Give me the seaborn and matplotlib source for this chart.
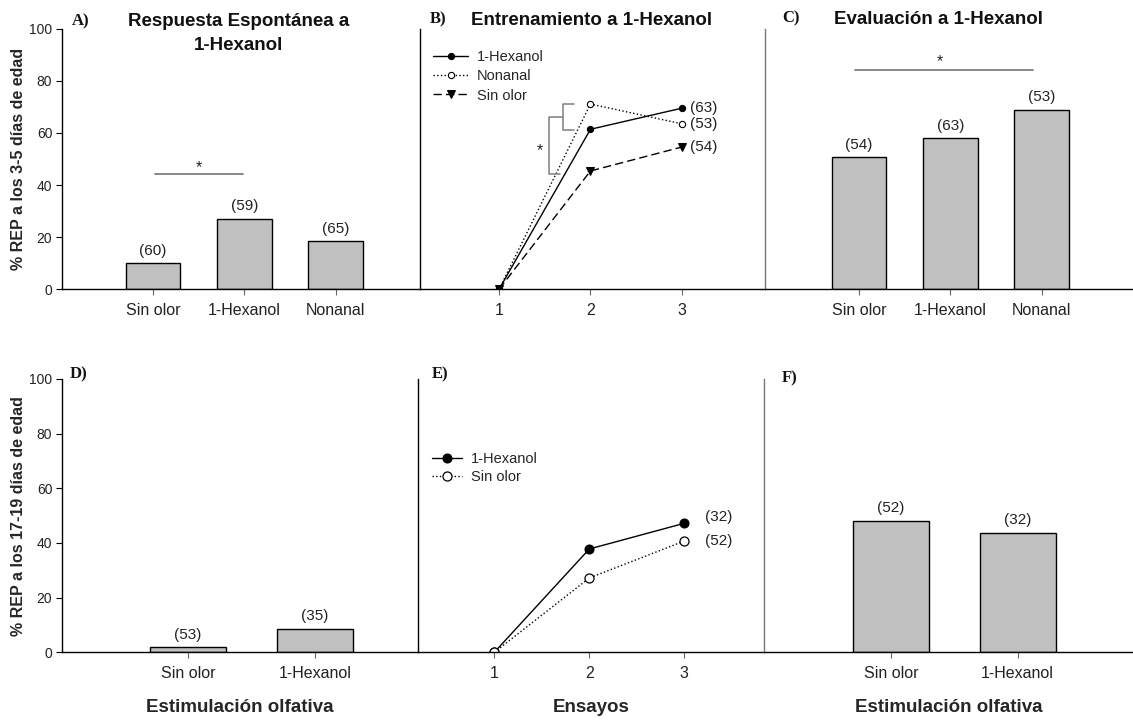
import matplotlib
matplotlib.use("Agg")
import matplotlib.pyplot as plt
import seaborn as sns
import pandas as pd

sns.set_theme(style="white")
plt.rcParams["font.family"] = ["Liberation Sans", "DejaVu Sans"]

# ---------------- data ----------------
a_cats = ["Sin olor", "1-Hexanol", "Nonanal"]
a_vals = [10.0, 27.0, 18.4]
a_n = ["(60)", "(59)", "(65)"]

b_trials = [1, 2, 3]
b_hexanol = [0.0, 61.4, 69.5]
b_nonanal = [0.0, 71.1, 63.5]
b_sinolor = [0.0, 45.4, 54.6]
b_n = ["(63)", "(53)", "(54)"]

c_cats = ["Sin olor", "1-Hexanol", "Nonanal"]
c_vals = [50.6, 57.9, 68.8]
c_n = ["(54)", "(63)", "(53)"]

d_cats = ["Sin olor", "1-Hexanol"]
d_vals = [1.8, 8.6]
d_n = ["(53)", "(35)"]

e_trials = [1, 2, 3]
e_hexanol = [0.0, 37.8, 47.2]
e_sinolor = [0.0, 27.2, 40.7]
e_n = ["(32)", "(52)"]

f_cats = ["Sin olor", "1-Hexanol"]
f_vals = [48.2, 43.8]
f_n = ["(52)", "(32)"]

W, H = 1133, 720
fig = plt.figure(figsize=(W / 100, H / 100), dpi=100)
GRAY = "#c0c0c0"
SIG = "#7f7f7f"


def add_ax(x0, x1, ybot, ytop):
    ax = fig.add_axes([x0 / W, 1 - ybot / H, (x1 - x0) / W, (ybot - ytop) / H])
    ax.set_facecolor("none")
    return ax


def style(ax, yaxis, left_color="black"):
    ax.spines["top"].set_visible(False)
    ax.spines["right"].set_visible(False)
    ax.spines["bottom"].set_color("black")
    ax.spines["bottom"].set_linewidth(1.0)
    ax.spines["left"].set_color(left_color)
    ax.spines["left"].set_linewidth(1.0)
    ax.tick_params(axis="x", bottom=True, direction="out", length=4, width=0.8,
                   color="#666666", pad=6, labelsize=11.5, labelcolor="#222222")
    if yaxis:
        ax.set_yticks([0, 20, 40, 60, 80, 100])
        ax.tick_params(axis="y", left=True, direction="out", length=4, width=0.8,
                       color="black", pad=3, labelsize=10, labelcolor="#222222")
    else:
        ax.set_yticks([])
    ax.set_ylim(0, 100)
    ax.set_xlabel("")
    ax.set_ylabel("")
    ax.grid(False)


def bars(ax, cats, vals, labels, xlim):
    df = pd.DataFrame({"cat": cats, "val": vals})
    sns.barplot(data=df, x="cat", y="val", order=cats, color=GRAY, saturation=1,
                edgecolor="black", linewidth=1.0, width=0.6, ax=ax)
    for i, (v, lab) in enumerate(zip(vals, labels)):
        ax.annotate(lab, (i, v), xytext=(0, 4), textcoords="offset points",
                    ha="center", va="bottom", fontsize=11, color="#222222")
    ax.set_xlim(*xlim)


# ---------------- Panel A ----------------
axA = add_ax(62, 420, 289.3, 28.7)
bars(axA, a_cats, a_vals, a_n, (-0.995, 2.92))
style(axA, True)
axA.plot([0.02, 0.98], [44.4, 44.4], color=SIG, lw=1.3)
axA.text(0.5, 45.0, "*", ha="center", va="baseline", fontsize=11.5, color="#222222")
axA.set_ylabel("% REP a los 3-5 días de edad", fontsize=11.5, fontweight="bold", labelpad=2)

# ---------------- Panel B ----------------
axB = add_ax(420, 765, 289.3, 28.7)
sns.lineplot(x=b_trials, y=b_hexanol, ax=axB, color="black", linestyle="-", lw=1,
             marker="o", markersize=4.5, markerfacecolor="black", markeredgecolor="black",
             label="1-Hexanol", legend=False)
sns.lineplot(x=b_trials, y=b_nonanal, ax=axB, color="black", linestyle=":", lw=1,
             marker="o", markersize=4.5, markerfacecolor="white", markeredgecolor="black",
             markeredgewidth=0.8, label="Nonanal", legend=False)
sns.lineplot(x=b_trials, y=b_sinolor, ax=axB, color="black", linestyle=(0, (6, 3)), lw=1,
             marker="v", markersize=5.5, markerfacecolor="black", markeredgecolor="black",
             label="Sin olor", legend=False)
style(axB, False)
axB.set_xticks(b_trials)
axB.set_xticklabels([str(t) for t in b_trials])
axB.set_xlim(0.135, 3.91)
for y, lab in zip([b_hexanol[-1], b_nonanal[-1], b_sinolor[-1]], b_n):
    axB.annotate(lab, (3, y), xytext=(6, 0), textcoords="offset points",
                 ha="left", va="center", fontsize=11, color="#222222")
# significance brackets
axB.plot([1.825, 1.698, 1.698, 1.825], [71.1, 71.1, 61.1, 61.1], color=SIG, lw=1.1)
axB.plot([1.698, 1.548, 1.548, 1.668], [66.0, 66.0, 44.2, 44.2], color=SIG, lw=1.1)
axB.text(1.449, 51.3, "*", ha="center", va="baseline", fontsize=11.5, color="#222222")
axB.legend(loc="upper left", bbox_to_anchor=(0.038, 0.918), frameon=False, fontsize=10.5,
           handlelength=2.4, handletextpad=0.6, labelspacing=0.36, borderpad=0,
           borderaxespad=0)

# ---------------- Panel C ----------------
axC = add_ax(765, 1133, 289.3, 28.7)
bars(axC, c_cats, c_vals, c_n, (-1.03, 3.0))
style(axC, False, left_color="#777777")
axC.plot([-0.04, 1.9], [84.1, 84.1], color=SIG, lw=1.3)
axC.text(0.88, 85.7, "*", ha="center", va="baseline", fontsize=11.5, color="#222222")

# ---------------- Panel D ----------------
axD = add_ax(62, 418, 652.3, 379)
bars(axD, d_cats, d_vals, d_n, (-0.99, 1.81))
style(axD, True)
axD.set_ylabel("% REP a los 17-19 días de edad", fontsize=11.5, fontweight="bold", labelpad=2)
axD.set_xlabel("Estimulación olfativa", fontsize=13.5, fontweight="bold", labelpad=13)

# ---------------- Panel E ----------------
axE = add_ax(418, 764, 652.3, 379)
sns.lineplot(x=e_trials, y=e_hexanol, ax=axE, color="black", linestyle="-", lw=1,
             marker="o", markersize=6.5, markerfacecolor="black", markeredgecolor="black",
             label="1-Hexanol", legend=False)
sns.lineplot(x=e_trials, y=e_sinolor, ax=axE, color="black", linestyle=":", lw=1,
             marker="o", markersize=6.5, markerfacecolor="white", markeredgecolor="black",
             markeredgewidth=0.9, label="Sin olor", legend=False)
style(axE, False)
axE.set_xticks(e_trials)
axE.set_xticklabels([str(t) for t in e_trials])
axE.set_xlim(0.196, 3.84)
axE.text(3.22, 49.5, e_n[0], ha="left", va="center", fontsize=11, color="#222222")
axE.text(3.22, 40.7, e_n[1], ha="left", va="center", fontsize=11, color="#222222")
axE.legend(loc="upper left", bbox_to_anchor=(0.04, 0.733), frameon=False, fontsize=10.5,
           handlelength=2.1, handletextpad=0.6, labelspacing=0.28, borderpad=0,
           borderaxespad=0)
axE.set_xlabel("Ensayos", fontsize=13.5, fontweight="bold", labelpad=13)

# ---------------- Panel F ----------------
axF = add_ax(764, 1133, 652.3, 379)
bars(axF, f_cats, f_vals, f_n, (-1.0, 1.91))
style(axF, False, left_color="#777777")
axF.set_xlabel("Estimulación olfativa", fontsize=13.5, fontweight="bold", labelpad=13)

# ---------------- titles & panel letters ----------------
def ftext(x, y, s, **kw):
    fig.text(x / W, 1 - y / H, s, **kw)

tkw = dict(fontsize=13.5, fontweight="bold", color="#111111", va="baseline", ha="center")
ftext(239, 26, "Respuesta Espontánea a", **tkw)
ftext(239, 50, "1-Hexanol", **tkw)
ftext(592, 25, "Entrenamiento a 1-Hexanol", **tkw)
ftext(939, 24, "Evaluación a 1-Hexanol", **tkw)

lkw = dict(fontsize=12, fontweight="bold", family=["Liberation Serif", "DejaVu Serif"],
           va="baseline", ha="left", color="#111111")
ftext(72, 25, "A)", **lkw)
ftext(430, 23, "B)", **lkw)
ftext(782, 22, "C)", **lkw)
ftext(70, 378, "D)", **lkw)
ftext(432, 378, "E)", **lkw)
ftext(782, 382, "F)", **lkw)

fig.savefig("out.png", dpi=100)
